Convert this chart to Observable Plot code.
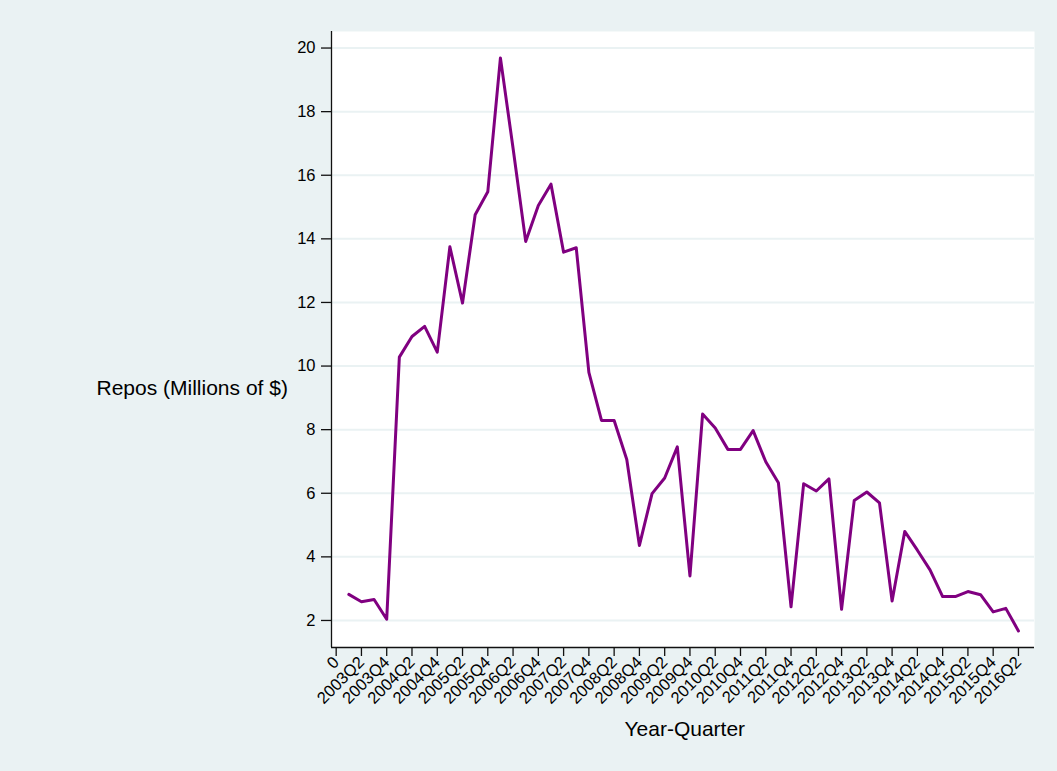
<!DOCTYPE html>
<html><head><meta charset="utf-8">
<script src="https://cdn.jsdelivr.net/npm/d3@7"></script>
<script src="https://cdn.jsdelivr.net/npm/@observablehq/plot@0.6"></script>
<style>
html,body{margin:0;padding:0;background:#EAF2F3;}
#wrap{position:relative;width:1057px;height:771px;background:#EAF2F3;font-family:"Liberation Sans",Arial,sans-serif;overflow:hidden;}
#chart{position:absolute;left:0;top:0;}
#chart svg text{font-size:16.5px !important;fill:#000;}
.ttl{position:absolute;font-size:21px;line-height:21px;color:#000;white-space:nowrap;}
</style></head><body>
<div id="wrap"><div id="chart"></div>
<div class="ttl" id="ylab" style="left:96.5px;top:377px;">Repos (Millions of $)</div>
<div class="ttl" id="xlab" style="left:684.8px;top:718px;transform:translateX(-50%);">Year-Quarter</div>
</div>
<script>
const quarters = [
  "2003Q1","2003Q2","2003Q3","2003Q4",
  "2004Q1","2004Q2","2004Q3","2004Q4",
  "2005Q1","2005Q2","2005Q3","2005Q4",
  "2006Q1","2006Q2","2006Q3","2006Q4",
  "2007Q1","2007Q2","2007Q3","2007Q4",
  "2008Q1","2008Q2","2008Q3","2008Q4",
  "2009Q1","2009Q2","2009Q3","2009Q4",
  "2010Q1","2010Q2","2010Q3","2010Q4",
  "2011Q1","2011Q2","2011Q3","2011Q4",
  "2012Q1","2012Q2","2012Q3","2012Q4",
  "2013Q1","2013Q2","2013Q3","2013Q4",
  "2014Q1","2014Q2","2014Q3","2014Q4",
  "2015Q1","2015Q2","2015Q3","2015Q4",
  "2016Q1","2016Q2"
];
const repos = [
  2.82, 2.59, 2.66, 2.04,
  10.28, 10.93, 11.25, 10.44,
  13.75, 11.98, 14.76, 15.48,
  19.69, 16.85, 13.92, 15.05,
  15.72, 13.58, 13.72, 9.80,
  8.29, 8.29, 7.06, 4.36,
  5.99, 6.48, 7.46, 3.40,
  8.49, 8.05, 7.38, 7.38,
  7.97, 6.99, 6.33, 2.43,
  6.30, 6.07, 6.45, 2.35,
  5.77, 6.04, 5.70, 2.61,
  4.80, 4.21, 3.59, 2.75,
  2.75, 2.91, 2.81, 2.27,
  2.38, 1.67
];
const xTickQuarters = ["2002Q4","2003Q2","2003Q4","2004Q2","2004Q4","2005Q2","2005Q4","2006Q2","2006Q4","2007Q2","2007Q4","2008Q2","2008Q4","2009Q2","2009Q4","2010Q2","2010Q4","2011Q2","2011Q4","2012Q2","2012Q4","2013Q2","2013Q4","2014Q2","2014Q4","2015Q2","2015Q4","2016Q2"];
const xTickLabels = ["0","2003Q2","2003Q4","2004Q2","2004Q4","2005Q2","2005Q4","2006Q2","2006Q4","2007Q2","2007Q4","2008Q2","2008Q4","2009Q2","2009Q4","2010Q2","2010Q4","2011Q2","2011Q4","2012Q2","2012Q4","2013Q2","2013Q4","2014Q2","2014Q4","2015Q2","2015Q4","2016Q2"];
const yTicks = [2,4,6,8,10,12,14,16,18,20];

const qnum = s => (+s.slice(0,4) - 2003) * 4 + (+s.slice(5) - 1);
const data = quarters.map((q, i) => ({x: qnum(q), y: repos[i]}));
const labelMap = new Map(xTickQuarters.map((q, i) => [qnum(q), xTickLabels[i]]));
const xDomain = [-1.37, 54.27];
const yDomain = [1.15, 20.52];
const bg = "#EAF2F3";

const chart = Plot.plot({
  width: 1057, height: 771,
  marginLeft: 331, marginRight: 23, marginTop: 31, marginBottom: 124,
  style: {background: "transparent", fontFamily: "'Liberation Sans', Arial, sans-serif", fontSize: "16.5px", color: "#000", overflow: "visible"},
  x: {domain: xDomain},
  y: {domain: yDomain},
  marks: [
    Plot.frame({fill: "white", stroke: null}),
    Plot.gridY(yTicks, {stroke: bg, strokeOpacity: 1, strokeWidth: 2}),
    Plot.line(data, {x: "x", y: "y", stroke: "#800080", strokeWidth: 3}),
    Plot.ruleX([xDomain[0]], {stroke: "#111", strokeWidth: 1.3}),
    Plot.ruleY([yDomain[0]], {stroke: "#111", strokeWidth: 1.3}),
    Plot.axisY(yTicks, {tickSize: 10, tickPadding: 6, label: null, stroke: "#111", strokeWidth: 1.3}),
    Plot.axisX(xTickQuarters.map(qnum), {tickFormat: d => labelMap.get(d), tickRotate: -45, tickSize: 9, tickPadding: 3, label: null, stroke: "#111", strokeWidth: 1.3})
  ]
});
document.getElementById("chart").appendChild(chart);
</script>
</body></html>
